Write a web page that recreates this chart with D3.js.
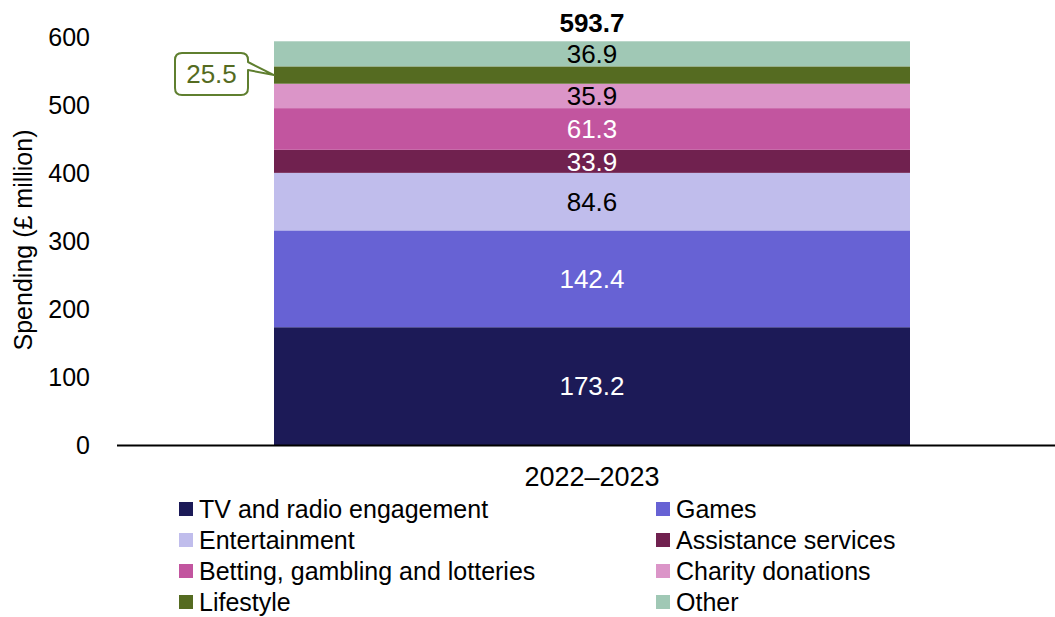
<!DOCTYPE html>
<html>
<head>
<meta charset="utf-8">
<script src="https://cdn.jsdelivr.net/npm/d3@7"></script>
<style>
  html, body { margin: 0; padding: 0; background: #fff; }
  svg { display: block; }
  text { font-family: "Liberation Sans", Arial, sans-serif; }
</style>
</head>
<body>
<svg id="chart" width="1055" height="617"></svg>
<script>
// Spending by category, single stacked column
const periods = ["2022\u20132023"];
const categories = [
  "TV and radio engagement", "Games", "Entertainment", "Assistance services",
  "Betting, gambling and lotteries", "Charity donations", "Lifestyle", "Other"
];
const values = [173.2, 142.4, 84.6, 33.9, 61.3, 35.9, 25.5, 36.9];
const colors = ["#1c1a57", "#6762d4", "#c0bdec", "#70214f", "#c2559f", "#db95c8", "#556b21", "#a0c8b5"];
const labelColors = ["#fff", "#fff", "#000", "#fff", "#fff", "#000", "#556b21", "#000"];
const yTicks = [0, 100, 200, 300, 400, 500, 600];
const yTitle = "Spending (\u00a3 million)";
const calloutIndex = 6; // Lifestyle label sits in a callout box

const svg = d3.select("#chart");

const y = d3.scaleLinear().domain([0, 600]).range([445, 37]);
const x = d3.scaleBand().domain(periods).range([129, 1055]).paddingInner(0).paddingOuter(0.228);

// stacked layout
const row = { period: periods[0] };
categories.forEach((c, i) => row[c] = values[i]);
const series = d3.stack().keys(categories)([row]);

// y axis labels (no line, no ticks)
const yAxis = d3.axisLeft(y).tickValues(yTicks).tickSize(0).tickPadding(27);
const gy = svg.append("g").attr("transform", "translate(117,0)").call(yAxis);
gy.select(".domain").remove();
gy.selectAll("text").attr("font-family", "Liberation Sans, Arial, sans-serif")
  .attr("font-size", 25).attr("fill", "#000").attr("dy", "0.34em");

// bars
const bw = x.bandwidth();
svg.append("g").selectAll("rect").data(series).join("rect")
  .attr("x", x(periods[0]))
  .attr("width", bw)
  .attr("y", d => y(d[0][1]))
  .attr("height", d => y(d[0][0]) - y(d[0][1]))
  .attr("fill", (d, i) => colors[i]);

// segment labels
const cx = x(periods[0]) + bw / 2;
svg.append("g").selectAll("text").data(series.filter((d, i) => i !== calloutIndex)).join("text")
  .attr("x", cx)
  .attr("y", d => y((d[0][0] + d[0][1]) / 2))
  .attr("dy", "0.36em")
  .attr("text-anchor", "middle")
  .attr("font-size", 26)
  .attr("fill", d => labelColors[d.index])
  .text(d => d3.format(".1f")(values[d.index]));

// total
const total = d3.sum(values);
svg.append("text")
  .attr("x", cx).attr("y", y(total) - 19)
  .attr("dy", "0.36em")
  .attr("text-anchor", "middle")
  .attr("font-size", 26)
  .attr("font-weight", "bold")
  .attr("fill", "#000")
  .text(d3.format(".1f")(total));

// callout for the thin Lifestyle segment
const cs = series[calloutIndex][0];
const tipY = y((cs[0] + cs[1]) / 2);
const barLeft = x(periods[0]);
const bx0 = 175, bx1 = 248, by0 = 53, by1 = 95, r = 7;
const pathD = [
  `M${bx0 + r},${by0}`,
  `H${bx1 - r}`, `Q${bx1},${by0} ${bx1},${by0 + r}`,
  `V${by0 + 9}`, `L${barLeft},${tipY}`, `L${bx1},${by0 + 17}`,
  `V${by1 - r}`, `Q${bx1},${by1} ${bx1 - r},${by1}`,
  `H${bx0 + r}`, `Q${bx0},${by1} ${bx0},${by1 - r}`,
  `V${by0 + r}`, `Q${bx0},${by0} ${bx0 + r},${by0}`, "Z"
].join(" ");
svg.append("path").attr("d", pathD).attr("fill", "#fff")
  .attr("stroke", "#5f7f2f").attr("stroke-width", 2).attr("stroke-linejoin", "round");
svg.append("text")
  .attr("x", (bx0 + bx1) / 2).attr("y", (by0 + by1) / 2)
  .attr("dy", "0.36em").attr("text-anchor", "middle")
  .attr("font-size", 26)
  .attr("fill", labelColors[calloutIndex])
  .text(d3.format(".1f")(values[calloutIndex]));

// baseline
svg.append("line").attr("x1", 117).attr("x2", 1055).attr("y1", y(0) + 0.5).attr("y2", y(0) + 0.5)
  .attr("stroke", "#000").attr("stroke-width", 2);

// category label
svg.append("text")
  .attr("x", cx).attr("y", 476).attr("dy", "0.36em").attr("text-anchor", "middle")
  .attr("font-size", 27).attr("fill", "#000")
  .text(periods[0]);

// y title
svg.append("text")
  .attr("transform", `translate(23,${y(300) - 1}) rotate(-90)`)
  .attr("dy", "0.36em").attr("text-anchor", "middle")
  .attr("font-size", 25).attr("fill", "#000")
  .text(yTitle);

// legend: two columns, row-major order
const legend = svg.append("g").selectAll("g").data(categories).join("g")
  .attr("transform", (d, i) => `translate(${i % 2 === 0 ? 179 : 656},${509 + Math.floor(i / 2) * 31})`);
legend.append("rect").attr("x", 0).attr("y", -7).attr("width", 14).attr("height", 14)
  .attr("fill", (d, i) => colors[i]);
legend.append("text").attr("x", 20).attr("dy", "0.36em")
  .attr("font-size", 25).attr("fill", "#000")
  .text(d => d);
</script>
</body>
</html>
